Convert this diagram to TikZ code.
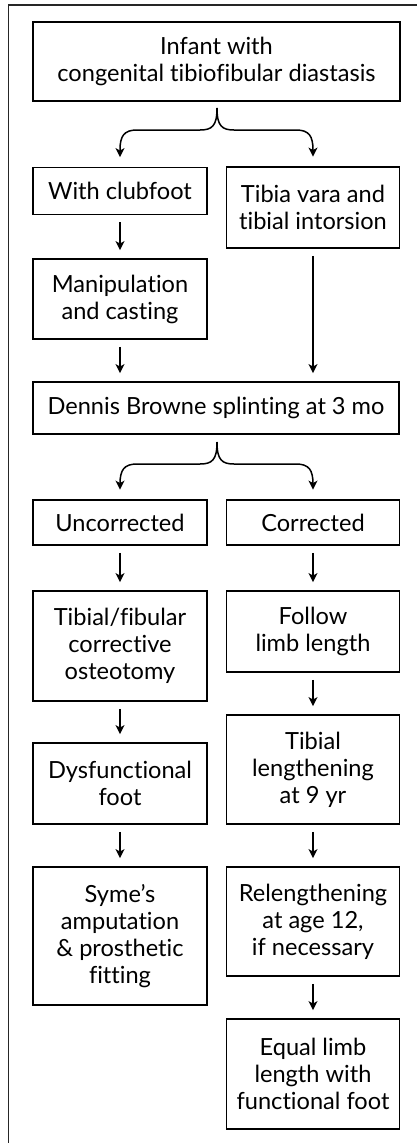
\documentclass[tikz,border=0pt]{standalone}
\usepackage{fontspec}
\setmainfont{Lato}[Ligatures=NoCommon]
\usetikzlibrary{arrows.meta}
\begin{document}
\begin{tikzpicture}[x=1pt,y=-1pt,
  box/.style={draw, line width=1.8pt, align=center, inner sep=0pt, font=\fontsize{23.6}{27}\selectfont},
  arr/.style={line width=1.6pt, -{Stealth[length=9pt,width=9pt,inset=2.5pt]}, shorten <=7pt, shorten >=8pt},
  brace/.style={line width=1.5pt, -{Stealth[length=9pt,width=9pt,inset=2.5pt]}, shorten >=9.5pt}]
\useasboundingbox (0,0) rectangle (417,1143);
\draw[line width=1.3pt, black!85] (8.5,1143) -- (8.5,5) -- (417,5);
% nodes
\node[box, minimum width=367pt, minimum height=79pt] (top) at (216.5,61.5) {Infant with\\congenital tibiofibular diastasis};
\node[box, minimum width=174pt, minimum height=47pt] (club) at (120,191) {With clubfoot};
\node[box, minimum width=173pt, minimum height=81pt] (tib) at (313,207.5) {Tibia vara and\\tibial intorsion};
\node[box, minimum width=174pt, minimum height=80pt] (man) at (120,299) {Manipulation\\and casting};
\node[box, minimum width=366pt, minimum height=52pt] (den) at (216,408) {Dennis Browne splinting at 3 mo};
\node[box, minimum width=174pt, minimum height=45pt] (unc) at (120,522.5) {Uncorrected};
\node[box, minimum width=173pt, minimum height=45pt] (cor) at (313,522.5) {Corrected};
\node[box, minimum width=174pt, minimum height=110pt] (tf) at (120,646) {Tibial/fibular\\corrective\\osteotomy};
\node[box, minimum width=173pt, minimum height=81pt] (fol) at (313,631.5) {Follow\\limb length};
\node[box, minimum width=174pt, minimum height=81pt] (dys) at (120,783.5) {Dysfunctional\\foot};
\node[box, minimum width=173pt, minimum height=109pt] (tl) at (313,769.5) {Tibial\\lengthening\\at 9 yr};
\node[box, minimum width=174pt, minimum height=138pt] (sym) at (120,936) {Syme’s\\amputation\\\& prosthetic\\fitting};
\node[box, minimum width=173pt, minimum height=109pt] (rel) at (313,921.5) {Relengthening\\at age 12,\\if necessary};
\node[box, minimum width=173pt, minimum height=110pt] (eq) at (313,1074) {Equal limb\\length with\\functional foot};
% braces
\coordinate (b1) at (217,108);
\coordinate (b2) at (217,442);
\draw[brace] (b1) .. controls (217,126) and (212,130) .. (200,130) -- (137,130) .. controls (124,130) and (120,136) .. (120,150) -- (club.north);
\draw[brace] (b1) .. controls (217,126) and (222,130) .. (234,130) -- (296,130) .. controls (309,130) and (313,136) .. (313,150) -- (tib.north);
\draw[brace] (b2) .. controls (217,460) and (212,464) .. (200,464) -- (137,464) .. controls (124,464) and (120,470) .. (120,484) -- (unc.north);
\draw[brace] (b2) .. controls (217,460) and (222,464) .. (234,464) -- (296,464) .. controls (309,464) and (313,470) .. (313,484) -- (cor.north);
% arrows
\draw[arr] (club.south) -- (man.north);
\draw[arr] (man.south) -- (man.south |- den.north);
\draw[arr] (tib.south) -- (tib.south |- den.north);
\draw[arr] (unc.south) -- (tf.north);
\draw[arr] (cor.south) -- (fol.north);
\draw[arr] (tf.south) -- (dys.north);
\draw[arr] (fol.south) -- (tl.north);
\draw[arr] (dys.south) -- (sym.north);
\draw[arr] (tl.south) -- (rel.north);
\draw[arr] (rel.south) -- (eq.north);
\end{tikzpicture}
\end{document}
